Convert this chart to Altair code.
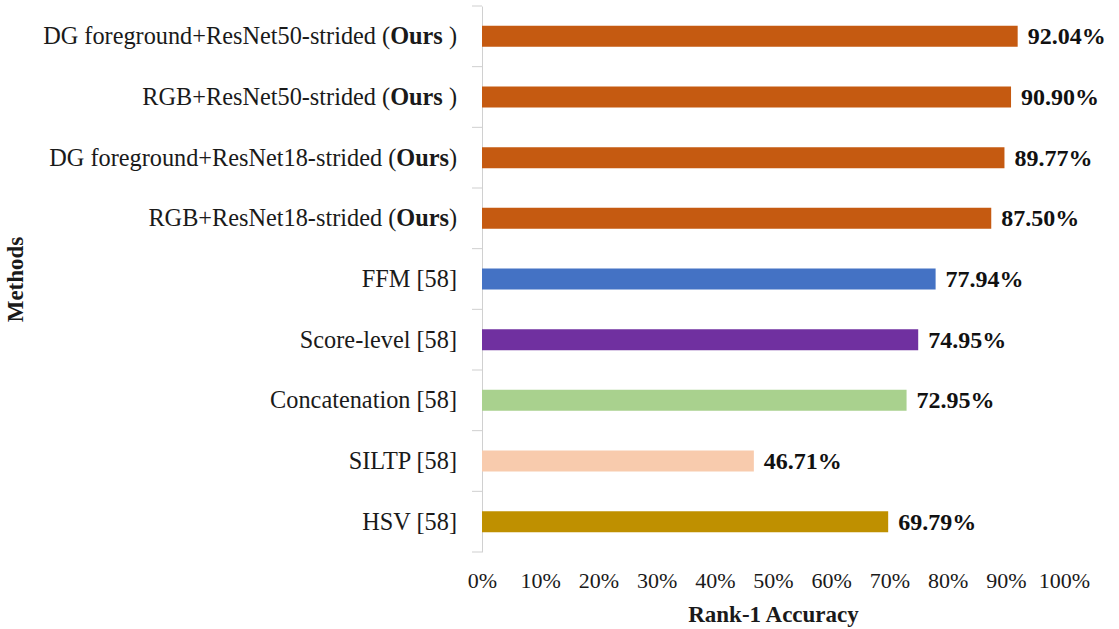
import altair as alt
import pandas as pd

# Methods, top to bottom, as they appear on the y axis
methods = [
    "DG foreground+ResNet50-strided (Ours )",
    "RGB+ResNet50-strided (Ours )",
    "DG foreground+ResNet18-strided (Ours)",
    "RGB+ResNet18-strided (Ours)",
    "FFM [58]",
    "Score-level [58]",
    "Concatenation [58]",
    "SILTP [58]",
    "HSV [58]",
]
# Label pieces: regular prefix, bold part, regular tail
label_plain = [
    "DG foreground+ResNet50-strided (",
    "RGB+ResNet50-strided (",
    "DG foreground+ResNet18-strided (",
    "RGB+ResNet18-strided (",
    "FFM [58]",
    "Score-level [58]",
    "Concatenation [58]",
    "SILTP [58]",
    "HSV [58]",
]
label_bold = ["Ours", "Ours", "Ours", "Ours", "", "", "", "", ""]
label_tail = [" )", " )", ")", ")", "", "", "", "", ""]

# Rank-1 accuracy (%)
accuracy = [92.04, 90.90, 89.77, 87.50, 77.94, 74.95, 72.95, 46.71, 69.79]
bar_colors = ["#C55A11", "#C55A11", "#C55A11", "#C55A11",
              "#4472C4", "#7030A0", "#A9D18E", "#F8CBAD", "#BF9000"]
x_ticks = [0, 10, 20, 30, 40, 50, 60, 70, 80, 90, 100]

FONT = "Liberation Serif"
LABEL_SIZE = 24.3
WIDTH, HEIGHT = 582, 546
PX_PER_UNIT = WIDTH / 100.0
LABEL_GAP = 25  # px between the axis line and the right end of a method label
PAD_INNER = 0.654
PAD_OUTER = PAD_INNER / 2
STEP = HEIGHT / len(methods)
EDGE_PX = STEP * PAD_INNER / 2  # from a bar's edge to the row boundary

# Times advance widths (per 1000 em) for the few glyphs that need measuring
REGULAR_W = {")": 333, " ": 250}
BOLD_W = {"O": 778, "u": 556, "r": 444, "s": 389}


def text_px(s, table):
    return sum(table[c] for c in s) * LABEL_SIZE / 1000.0


rows = []
for m, p, b, t, a in zip(methods, label_plain, label_bold, label_tail, accuracy):
    tail_px = text_px(t, REGULAR_W)
    bold_px = text_px(b, BOLD_W)
    rows.append({
        "method": m,
        "acc": a,
        "acc_text": f"{a:.2f}%",
        "plain": p,
        "bold": b,
        "tail": t,
        # right-aligned anchor of each piece, converted to axis units
        "x_tail": -LABEL_GAP / PX_PER_UNIT,
        "x_bold": -(LABEL_GAP + tail_px) / PX_PER_UNIT,
        "x_plain": -(LABEL_GAP + tail_px + bold_px) / PX_PER_UNIT,
    })
df = pd.DataFrame(rows)

y_enc = alt.Y(
    "method:N",
    sort=methods,
    scale=alt.Scale(paddingInner=PAD_INNER, paddingOuter=PAD_OUTER),
    axis=alt.Axis(
        labels=False,
        grid=False,
        ticks=False,
        domainColor="#D0D0D0",
        title="Methods",
        titleFont=FONT,
        titleFontSize=23,
        titleFontWeight="bold",
        titleColor="#1a1a1a",
        titleX=-455,
        titleY=HEIGHT / 2,
        titleBaseline="bottom",
        titleAngle=-90,
    ),
)

x_scale = alt.Scale(domain=[0, 100], nice=False, zero=True)

bars = alt.Chart(df).mark_bar().encode(
    y=y_enc,
    x=alt.X(
        "acc:Q",
        scale=x_scale,
        axis=alt.Axis(
            values=x_ticks,
            labelExpr="datum.value + '%'",
            labelOverlap=False,
            labelFlush=False,
            domain=False,
            ticks=False,
            tickSize=0,
            grid=False,
            labelFont=FONT,
            labelFontSize=22,
            labelColor="#1a1a1a",
            labelPadding=18,
            title="Rank-1 Accuracy",
            titleFont=FONT,
            titleFontSize=23,
            titleFontWeight="bold",
            titleColor="#1a1a1a",
            titlePadding=12,
        ),
    ),
    color=alt.Color("method:N", scale=alt.Scale(domain=methods, range=bar_colors), legend=None),
)

# short tick marks left of the axis line, on the boundaries between rows
row_ticks = alt.Chart(df).mark_rule(
    color="#CFCFCF", strokeWidth=1, yOffset=-EDGE_PX
).encode(
    y=alt.Y("method:N", sort=methods, bandPosition=0),
    x=alt.value(-10),
    x2=alt.value(0),
)
bottom_tick = alt.Chart(df).transform_filter(
    alt.datum.method == methods[-1]
).mark_rule(color="#CFCFCF", strokeWidth=1, yOffset=EDGE_PX).encode(
    y=alt.Y("method:N", sort=methods, bandPosition=1),
    x=alt.value(-10),
    x2=alt.value(0),
)

values = alt.Chart(df).mark_text(
    align="left", baseline="middle", dx=10, dy=1,
    font=FONT, fontSize=24, fontWeight="bold", color="#111111",
).encode(y=alt.Y("method:N", sort=methods), x=alt.X("acc:Q"), text="acc_text:N")


def label_layer(text_field, x_field, weight):
    return alt.Chart(df).transform_filter(
        f"datum.{text_field} != ''"
    ).mark_text(
        align="right", baseline="middle", dy=1,
        font=FONT, fontSize=LABEL_SIZE, fontWeight=weight, color="#1a1a1a",
    ).encode(
        y=alt.Y("method:N", sort=methods),
        x=alt.X(f"{x_field}:Q"),
        text=f"{text_field}:N",
    )


chart = alt.layer(
    bars,
    row_ticks,
    bottom_tick,
    values,
    label_layer("plain", "x_plain", "normal"),
    label_layer("bold", "x_bold", "bold"),
    label_layer("tail", "x_tail", "normal"),
).properties(
    width=WIDTH,
    height=HEIGHT,
    autosize=alt.AutoSizeParams(type="none"),
    padding={"left": 482, "top": 6, "right": 55, "bottom": 77},
    background="white",
).configure_view(stroke=None)

chart.save("out.html", embed_options={"renderer": "svg", "actions": False})
